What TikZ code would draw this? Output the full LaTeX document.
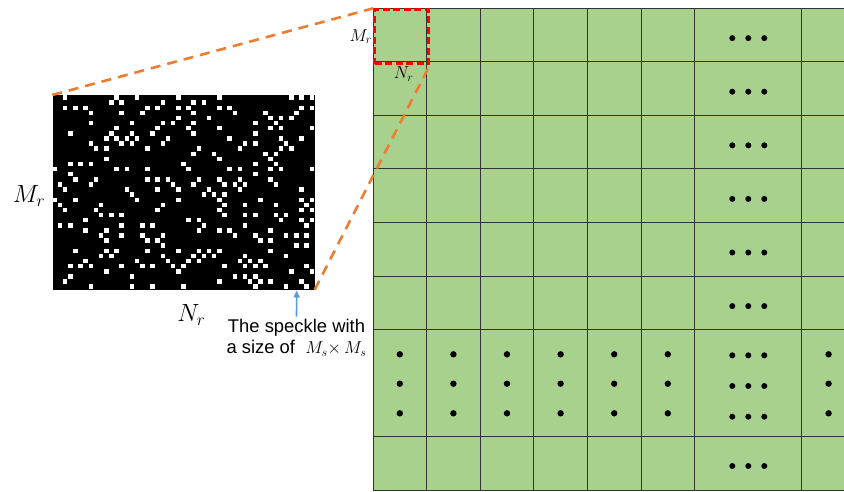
\documentclass[tikz,border=0pt]{standalone}
\usepackage{fontspec}
\setmainfont{Liberation Sans}
\usetikzlibrary{positioning, arrows.meta}
\definecolor{cellgreen}{HTML}{A9D18E}
\definecolor{gridink}{HTML}{333333}
\definecolor{zoomorange}{HTML}{ED7D31}
\definecolor{zoomred}{HTML}{FF0000}
\definecolor{pointblue}{HTML}{5B9BD5}

\begin{document}
\begin{tikzpicture}[x=1pt, y=-1pt,
  gridline/.style={draw=gridink, line width=0.9pt},
  roibox/.style={draw=zoomred, line width=2.6pt, dash pattern=on 7pt off 3.5pt, minimum size=54pt, inner sep=0pt, anchor=north west},
  zoomline/.style={draw=zoomorange, line width=2.6pt, dash pattern=on 10pt off 7pt},
  ar/.style={-{Triangle[length=7pt, width=6pt]}, pointblue, line width=1.6pt},
  biglbl/.style={inner sep=1pt, font=\fontsize{27}{29}\selectfont},
  smalllbl/.style={inner sep=1pt, font=\fontsize{17.5}{19}\selectfont}]

\clip (0,0) rectangle (844,491);

% cells of the full field
\fill[cellgreen] (373,8) rectangle (870,491);
\foreach \x in {373,426.6,480.2,533.8,587.4,641,694.6,801.8}
  \draw[gridline] (\x,8) -- (\x,491);
\foreach \y in {8,61.6,115.2,168.8,222.4,276,329.6,436.8,490.4}
  \draw[gridline] (373,\y) -- (870,\y);

% ellipsis dots
\foreach \k in {0,...,5}
  \foreach \x in {732.3,748.3,764.3}
    \fill (\x,{38.1+53.6*\k}) circle (3pt);
\foreach \x in {399.8,453.4,507,560.6,614.2,667.8,828.6}
  \foreach \y in {354.3,383.7,413.3}
    \fill (\x,\y) circle (3.2pt);
\foreach \x in {732.3,748.3,764.3}
  \foreach \y in {355.3,386,416.7,466}
    \fill (\x,\y) circle (3pt);

% speckle image
\node[fill=black, minimum width=262pt, minimum height=194.3pt, inner sep=0pt, anchor=north west] (speckle) at (52.3,95) {};
\pgfmathsetseed{4217}
\foreach \i in {0,...,50}
  \foreach \j in {0,...,37}{
    \pgfmathparse{(rnd<0.27 && mod(\i+\j,2)==0) ? 1 : 0}
    \ifdim\pgfmathresult pt>0.5pt
      \fill[white] ({52.3+5.14*\i+0.3},{95+5.11*\j+0.3}) rectangle ++(4.54,4.51);
    \fi
  }
\node[biglbl, left=6pt of speckle.west, yshift=-4pt] (mr) {$M_r$};
\node[biglbl, below=14pt of speckle.south, xshift=8pt] (nr) {$N_r$};

% zoomed region
\node[roibox] (roi) at (373.3,8.3) {};
\draw[zoomline] (speckle.north west) -- (roi.north west);
\draw[zoomline] (speckle.south east) -- (roi.south east);
\node[smalllbl, left=0pt of roi.west] (roimr) {$M_r$};
\node[smalllbl, below=1pt of roi.south, xshift=2pt] (roinr) {$N_r$};

% speckle size note
\node[align=center, font=\fontsize{18.4}{21.5}\selectfont, inner sep=0pt, anchor=north] (caption) at (296.5,318.5) {The speckle with\\a size of\ \ $M_s{\times}\,M_s$};
\coordinate (speck) at (296.7,290.5);
\draw[ar] ([yshift=1.8pt]caption.north) -- (speck);
\end{tikzpicture}
\end{document}
